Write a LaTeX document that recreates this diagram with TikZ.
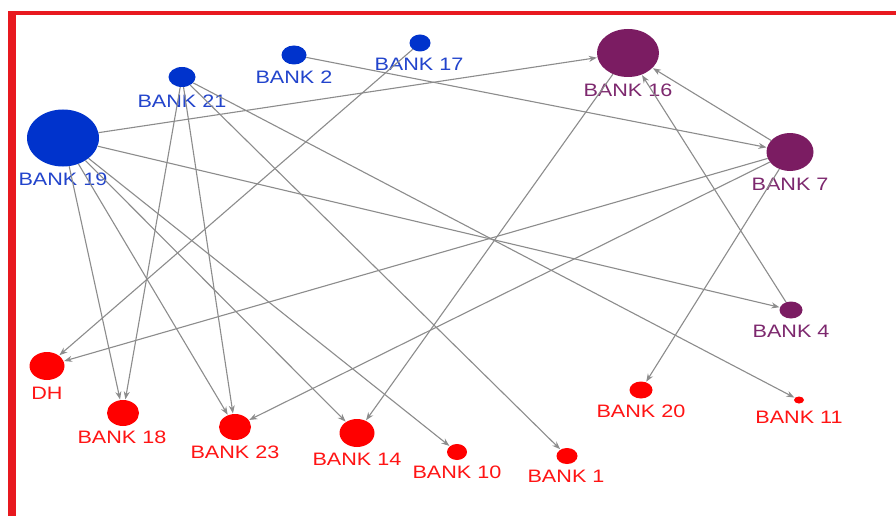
\documentclass[tikz,border=0pt]{standalone}
\usepackage{fontspec}
\setmainfont{Liberation Sans}
\usetikzlibrary{shapes.geometric,arrows.meta}
\definecolor{nblue}{RGB}{0,51,204}
\definecolor{npurple}{RGB}{123,28,98}
\definecolor{nred}{RGB}{255,0,0}
\definecolor{lblue}{RGB}{34,68,204}
\definecolor{lpurple}{RGB}{125,40,110}
\definecolor{lred}{RGB}{255,20,20}
\definecolor{edgegray}{RGB}{140,140,140}
\definecolor{framered}{RGB}{232,25,31}
\begin{document}
\begin{tikzpicture}[x=1pt,y=-1pt,
  bnode/.style={ellipse,inner sep=0pt,draw=none},
  bluenode/.style={bnode,fill=nblue},
  purplenode/.style={bnode,fill=npurple},
  rednode/.style={bnode,fill=nred},
  lab/.style={font=\fontsize{18}{18}\selectfont,inner sep=0pt,anchor=center},
  bluelab/.style={lab,text=lblue},
  purplelab/.style={lab,text=lpurple},
  redlab/.style={lab,text=lred},
  link/.style={draw=edgegray,line width=1.1pt,-{Stealth[length=8pt,width=6pt]},shorten >=0.5pt}
]
\useasboundingbox (0,0) rectangle (896,516);
\fill[white] (0,0) rectangle (896,516);
% frame
\fill[framered] (8,11) rectangle (896,15.5);
\fill[framered] (8,11) rectangle (15.5,516);

% nodes
\node[bluenode,minimum width=72pt,minimum height=57pt] (b19) at (63,138) {};
\node[bluenode,minimum width=27pt,minimum height=20pt] (b21) at (182,77) {};
\node[bluenode,minimum width=25pt,minimum height=19pt] (b2) at (294,55) {};
\node[bluenode,minimum width=21pt,minimum height=17pt] (b17) at (420,43) {};
\node[purplenode,minimum width=62pt,minimum height=48pt] (b16) at (628,53) {};
\node[purplenode,minimum width=47pt,minimum height=38pt] (b7) at (790,152) {};
\node[purplenode,minimum width=23pt,minimum height=17pt] (b4) at (791,310) {};
\node[rednode,minimum width=23pt,minimum height=17pt] (b20) at (641,390) {};
\node[rednode,minimum width=10pt,minimum height=7pt] (b11) at (799,400) {};
\node[rednode,minimum width=20pt,minimum height=16pt] (b10) at (457,452) {};
\node[rednode,minimum width=21pt,minimum height=16pt] (b1) at (567,456) {};
\node[rednode,minimum width=35pt,minimum height=28pt] (dh) at (47,366) {};
\node[rednode,minimum width=32pt,minimum height=26pt] (b18) at (123,413) {};
\node[rednode,minimum width=32pt,minimum height=26pt] (b23) at (235,427) {};
\node[rednode,minimum width=35pt,minimum height=28pt] (b14) at (357,433) {};

% labels
\node[bluelab] (l19) at (63,179) {\scalebox{1.2}[1]{BANK 19}};
\node[bluelab] (l21) at (182,101) {\scalebox{1.2}[1]{BANK 21}};
\node[bluelab] (l2) at (294,77) {\scalebox{1.2}[1]{BANK 2}};
\node[bluelab] (l17) at (419,64) {\scalebox{1.2}[1]{BANK 17}};
\node[purplelab] (l16) at (628,90) {\scalebox{1.2}[1]{BANK 16}};
\node[purplelab] (l7) at (790,184) {\scalebox{1.2}[1]{BANK 7}};
\node[purplelab] (l4) at (791,331) {\scalebox{1.2}[1]{BANK 4}};
\node[redlab] (l20) at (641,411) {\scalebox{1.2}[1]{BANK 20}};
\node[redlab] (l11) at (799,417) {\scalebox{1.2}[1]{BANK 11}};
\node[redlab] (l10) at (457,472) {\scalebox{1.2}[1]{BANK 10}};
\node[redlab] (l1) at (566,476) {\scalebox{1.2}[1]{BANK 1}};
\node[redlab] (ldh) at (47,393) {\scalebox{1.2}[1]{DH}};
\node[redlab] (l18) at (122,437) {\scalebox{1.2}[1]{BANK 18}};
\node[redlab] (l23) at (235,452) {\scalebox{1.2}[1]{BANK 23}};
\node[redlab] (l14) at (357,459) {\scalebox{1.2}[1]{BANK 14}};

% edges
\draw[link] (b19) -- (b16);
\draw[link] (b19) -- (b4);
\draw[link] (b19) -- (b18);
\draw[link] (b19) -- (b23);
\draw[link] (b19) -- (b14);
\draw[link] (b19) -- (b10);
\draw[link] (b21) -- (b18);
\draw[link] (b21) -- (b23);
\draw[link] (b21) -- (b1);
\draw[link] (b21) -- (b11);
\draw[link] (b2) -- (b7);
\draw[link] (b17) -- (dh);
\draw[link] (b7) -- (dh);
\draw[link] (b7) -- (b23);
\draw[link] (b7) -- (b16);
\draw[link] (b7) -- (b20);
\draw[link] (b4) -- (b16);
\draw[link] (b16) -- (b14);
\end{tikzpicture}
\end{document}
